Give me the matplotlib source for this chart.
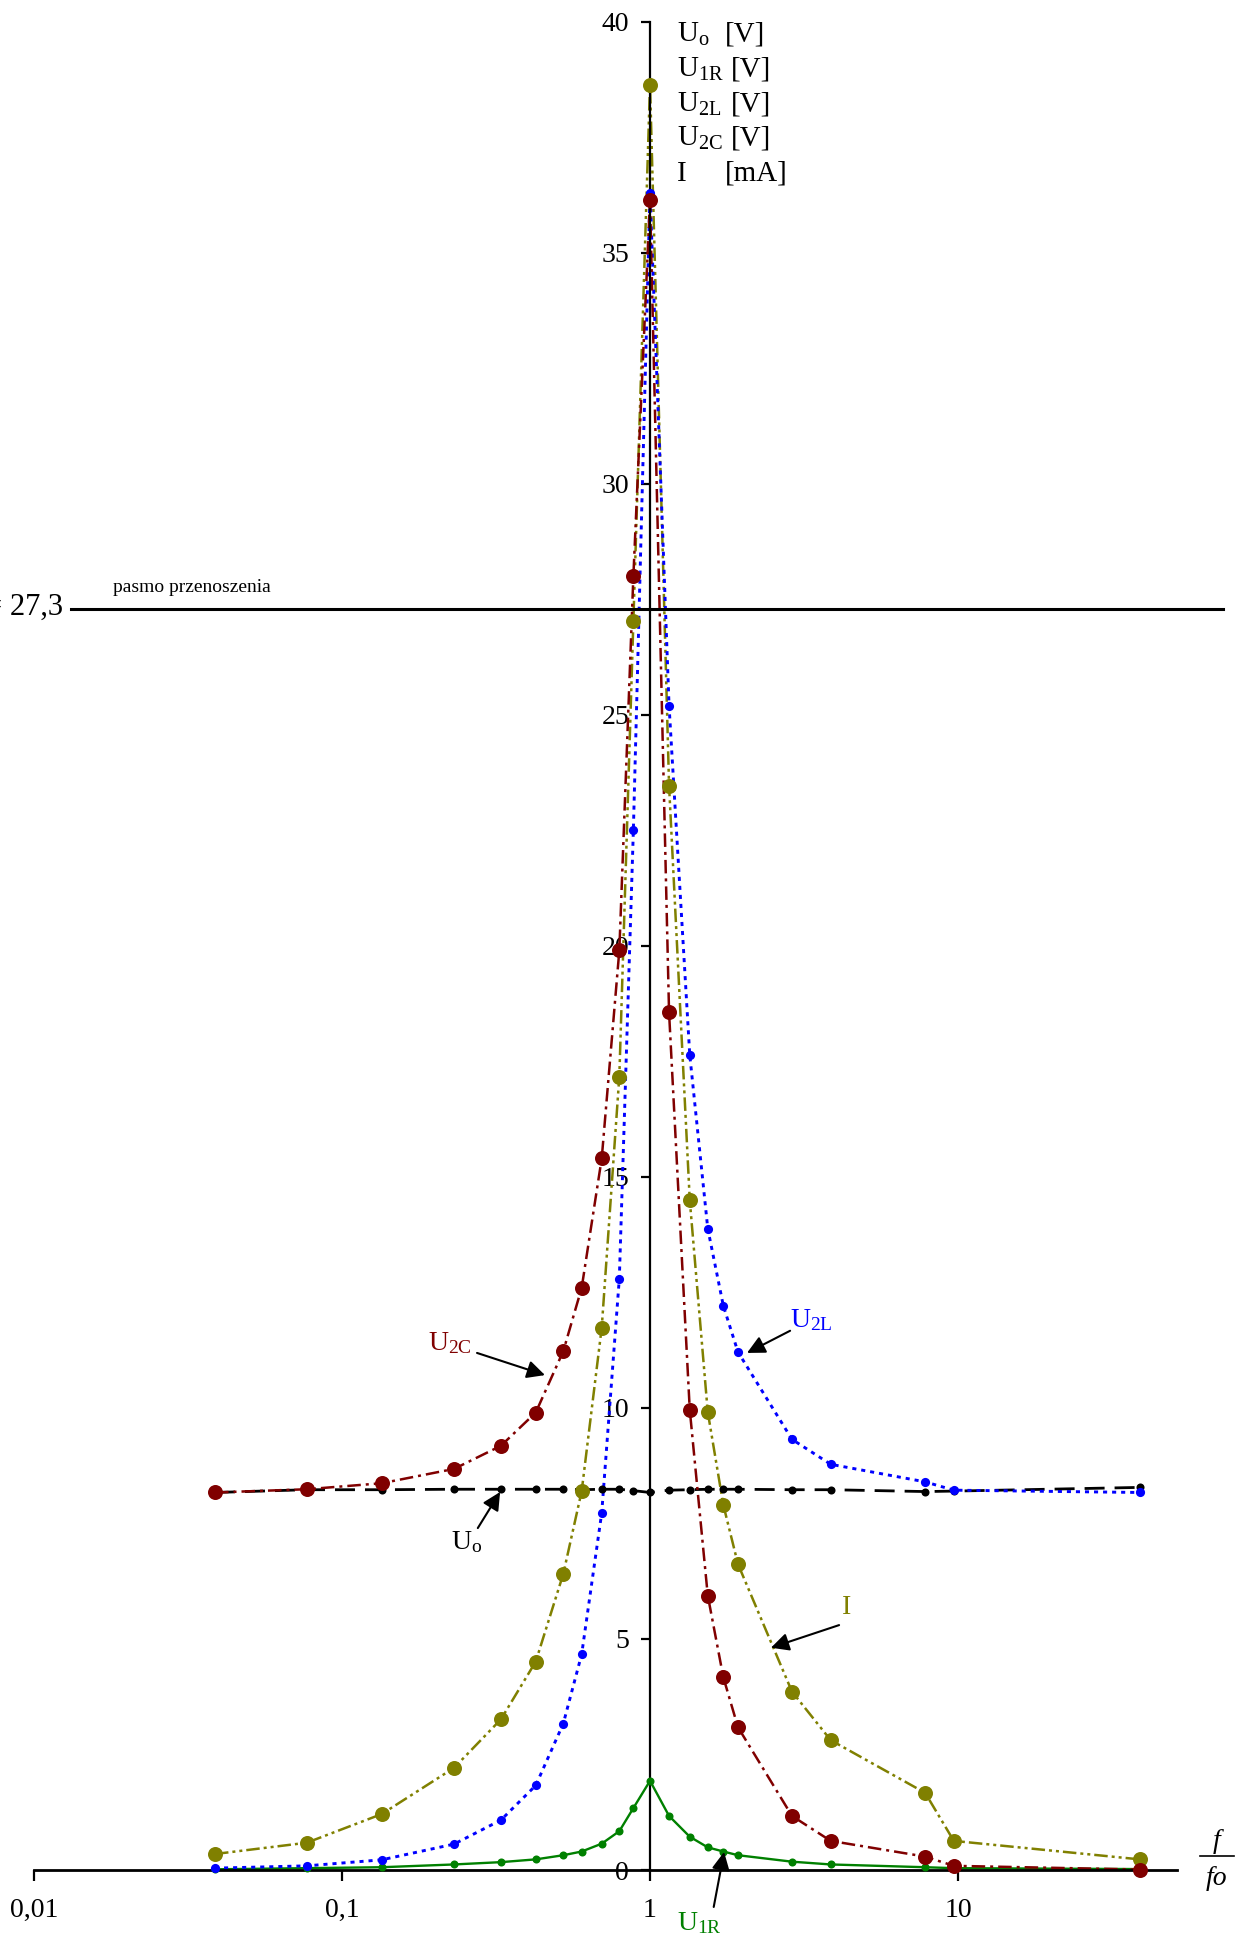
import matplotlib
matplotlib.use('Agg')
import matplotlib.pyplot as plt
from matplotlib.ticker import FixedLocator, FixedFormatter, NullLocator
from matplotlib.lines import Line2D

plt.rcParams['font.family'] = ['Liberation Serif', 'DejaVu Serif']
plt.rcParams['mathtext.fontset'] = 'custom'
plt.rcParams['mathtext.rm'] = 'Liberation Serif'
plt.rcParams['mathtext.it'] = 'Liberation Serif:italic'

# ---------------- data ----------------
f_ratio = [0.0387, 0.0768, 0.1345, 0.231, 0.328, 0.4256, 0.523, 0.600, 0.697,
           0.795, 0.883, 1.0, 1.153, 1.346, 1.54, 1.73, 1.93, 2.89, 3.86,
           7.82, 9.69, 38.9]
U_o = [8.17, 8.23, 8.23, 8.24, 8.24, 8.24, 8.24, 8.23, 8.24, 8.24, 8.21, 8.17,
       8.22, 8.23, 8.24, 8.24, 8.24, 8.23, 8.23, 8.19, 8.20, 8.28]
U_1R = [0.015, 0.04, 0.06, 0.12, 0.17, 0.23, 0.32, 0.40, 0.57, 0.84, 1.34, 1.93,
        1.17, 0.72, 0.49, 0.40, 0.32, 0.18, 0.12, 0.06, 0.04, 0.02]
U_2L = [0.04, 0.09, 0.22, 0.56, 1.08, 1.83, 3.17, 4.67, 7.73, 12.8, 22.5, 36.3,
        25.2, 17.64, 13.88, 12.21, 11.21, 9.32, 8.78, 8.40, 8.22, 8.17]
U_2C = [8.17, 8.24, 8.37, 8.68, 9.18, 9.9, 11.23, 12.6, 15.4, 19.9, 28.0, 36.15,
        18.56, 9.96, 5.94, 4.17, 3.09, 1.17, 0.63, 0.29, 0.09, 0.01]
I_mA = [0.346, 0.59, 1.21, 2.21, 3.26, 4.51, 6.41, 8.20, 11.74, 17.17, 27.02,
        38.64, 23.47, 14.5, 9.91, 7.90, 6.62, 3.86, 2.81, 1.67, 0.63, 0.23]

x_ticks = [0.01, 0.1, 1, 10]
x_tick_labels = ['0,01', '0,1', '1', '10']
y_ticks = [0, 5, 10, 15, 20, 25, 30, 35, 40]
y_tick_labels = ['0', '5', '10', '15', '20', '25', '30', '35', '40']
U_band = 27.3
U_band_label = '= 27,3'
band_text = 'pasmo przenoszenia'

legend_names = [r'U$_{\mathrm{o}}$', r'U$_{\mathrm{1R}}$', r'U$_{\mathrm{2L}}$',
                r'U$_{\mathrm{2C}}$', 'I']
legend_units = ['[V]', '[V]', '[V]', '[V]', '[mA]']

# ---------------- figure ----------------
W, H = 1248, 1942
fig = plt.figure(figsize=(W / 100, H / 100), dpi=100)
ax = fig.add_axes([34 / W, 72 / H, 1143 / W, 1848.3 / H])
ax.set_xscale('log')
ax.set_xlim(0.01, 51.4)
ax.set_ylim(0, 40)

c_red = '#800000'
c_olive = '#808000'
c_blue = '#0000ff'
c_green = '#008000'

series = [
    (U_o, 'black', 2.0, (0, (7.2, 3.6)), 5.8, 2.1),
    (U_1R, c_green, 1.7, '-', 5.8, 2.2),
    (I_mA, c_olive, 1.8, (0, (5.4, 1.6, 1.2, 1.6, 1.2, 1.6)), 10.8, 2.3),
    (U_2L, c_blue, 2.1, (0, (1.4, 1.7)), 6.6, 2.4),
    (U_2C, c_red, 1.8, (0, (5.4, 2.0, 1.2, 2.0)), 10.8, 2.5),
]
for i, (vals, col, lw, ls, ms, z) in enumerate(series):
    ax.plot(f_ratio, vals, color=col, lw=lw, ls=ls, zorder=z, clip_on=False)
for i, (vals, col, lw, ls, ms, z) in enumerate(series):
    ax.plot(f_ratio, vals, ls='none', marker='o', ms=ms, mfc=col, mec=col,
            mew=0, zorder=5 + i * 0.1, clip_on=False)

# axes styling
for s in ['top', 'right']:
    ax.spines[s].set_visible(False)
ax.spines['left'].set_position(('data', 1))
ax.spines['left'].set_linewidth(1.6)
ax.spines['bottom'].set_linewidth(2.0)
ax.spines['left'].set_zorder(4)
ax.spines['bottom'].set_zorder(4)
ax.xaxis.set_major_locator(FixedLocator(x_ticks))
ax.xaxis.set_major_formatter(FixedFormatter(x_tick_labels))
ax.xaxis.set_minor_locator(NullLocator())
ax.yaxis.set_major_locator(FixedLocator(y_ticks))
ax.yaxis.set_major_formatter(FixedFormatter(y_tick_labels))
ax.tick_params(axis='x', direction='out', length=8, width=1.6, pad=12,
               labelsize=20)
ax.tick_params(axis='y', direction='out', length=6.5, width=1.6, pad=8.5,
               labelsize=20)
ax.patch.set_visible(False)

# band line
ax.axhline(U_band, xmin=(71 - 34) / 1143, xmax=(1223 - 34) / 1143,
           color='black', lw=2.2, zorder=4, clip_on=False)


def fp(x, y):
    return (x / W, 1 - y / H)


fig.text(*fp(63, 615), U_band_label, ha='right', va='baseline', fontsize=22)
fig.text(*fp(113, 592), band_text, ha='left', va='baseline', fontsize=14)

# legend-like labels at the top
base_y = [42, 76.7, 111.4, 146, 180.8]
unit_x = [725, 731, 731, 731, 725]
for name, unit, by, ux in zip(legend_names, legend_units, base_y, unit_x):
    fig.text(*fp(677, by), name, ha='left', va='baseline', fontsize=21)
    fig.text(*fp(ux, by), unit, ha='left', va='baseline', fontsize=21)

# f / fo
fig.text(*fp(1217, 1841), 'f', ha='center', va='center', fontsize=20,
         style='italic')
fig.text(*fp(1217, 1878), 'fo', ha='center', va='center', fontsize=20,
         style='italic')
fig.add_artist(Line2D([1200 / W, 1234 / W], [1 - 1856 / H, 1 - 1856 / H],
                      color='black', lw=1.2))

# annotations
arrow_kw = dict(arrowstyle='-|>', color='black', lw=1.5, mutation_scale=27,
                shrinkA=0, shrinkB=0)
annots = [
    (r'U$_{\mathrm{2C}}$', c_red, (0.224, 11.41), (0.2744, 11.19), (0.456, 10.71)),
    (r'U$_{\mathrm{o}}$', 'black', (0.253, 7.10), (0.276, 7.40), (0.326, 8.18)),
    (r'U$_{\mathrm{2L}}$', c_blue, (3.33, 11.9), (2.85, 11.67), (2.065, 11.19)),
    ('I', c_olive, (4.36, 5.69), (4.11, 5.30), (2.47, 4.81)),
    (r'U$_{\mathrm{1R}}$', c_green, (1.45, -1.15), (1.61, -0.80), (1.74, 0.39)),
]
for txt, col, tpos, tail, tip in annots:
    ax.annotate('', xy=tip, xytext=tail, arrowprops=arrow_kw,
                annotation_clip=False, zorder=8)
    ax.text(tpos[0], tpos[1], txt, color=col, ha='center', va='center',
            fontsize=20, clip_on=False, zorder=8)

fig.savefig('out.png', dpi=100)
